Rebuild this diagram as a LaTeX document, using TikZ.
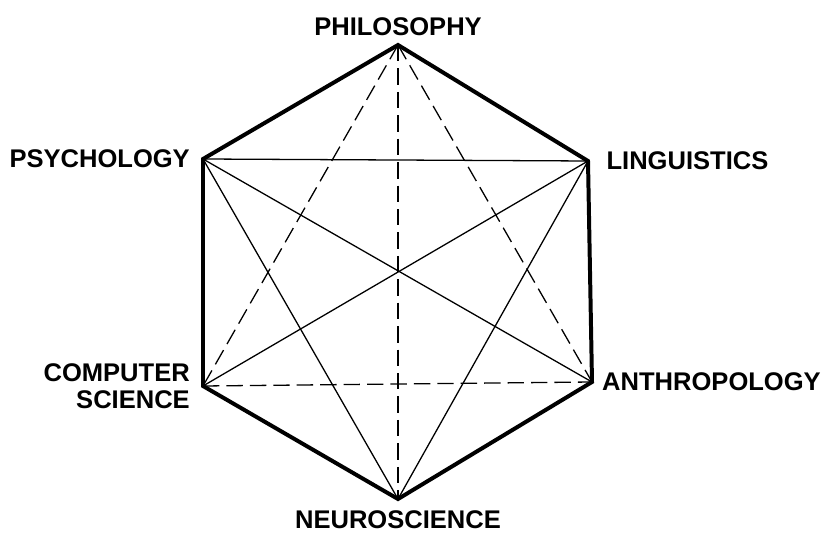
\documentclass[tikz,border=0pt]{standalone}
\usepackage{fontspec}
\setmainfont{Liberation Sans}
\usetikzlibrary{positioning}
\tikzset{
    field/.style={inner sep=0pt, font=\fontsize{21.8}{23.5}\selectfont\bfseries, align=center},
    rim/.style={line width=3.4pt, line join=miter},
    link/.style={line width=1.1pt},
    dashlink/.style={line width=1.1pt, dash pattern=on 14pt off 6pt},
}
\begin{document}
\begin{tikzpicture}
    \useasboundingbox (0,0) rectangle (24.72,15.99);
    % Vertices
    \coordinate (phil)  at (11.94,14.64);
    \coordinate (ling)  at (17.64,11.16);
    \coordinate (anth)  at (17.76,4.53);
    \coordinate (neuro) at (11.94,1.02);
    \coordinate (cs)    at (6.09,4.41);
    \coordinate (psy)   at (6.09,11.22);

    % Labels
    \node[field, above=0.28cm of phil] (philtxt) {PHILOSOPHY};
    \node[field, right=0.55cm of ling] (lingtxt) {LINGUISTICS};
    \node[field, right=0.3cm of anth] (anthtxt) {ANTHROPOLOGY};
    \node[field, below=0.33cm of neuro] (neurotxt) {NEUROSCIENCE};
    \node[field, left=0.39cm of cs, align=right] (cstxt) {COMPUTER\\SCIENCE};
    \node[field, left=0.39cm of psy] (psytxt) {PSYCHOLOGY};

    % Diagonals
    \draw[link] (psy) -- (ling);
    \draw[link] (psy) -- (anth);
    \draw[link] (psy) -- (neuro);
    \draw[link] (ling) -- (cs);
    \draw[link] (ling) -- (neuro);
    \draw[dashlink] (phil) -- (cs);
    \draw[dashlink] (phil) -- (anth);
    \draw[dashlink] (phil) -- (neuro);
    \draw[dashlink] (cs) -- (anth);

    % Hexagon
    \draw[rim] (phil) -- (ling) -- (anth) -- (neuro) -- (cs) -- (psy) -- cycle;
\end{tikzpicture}
\end{document}
